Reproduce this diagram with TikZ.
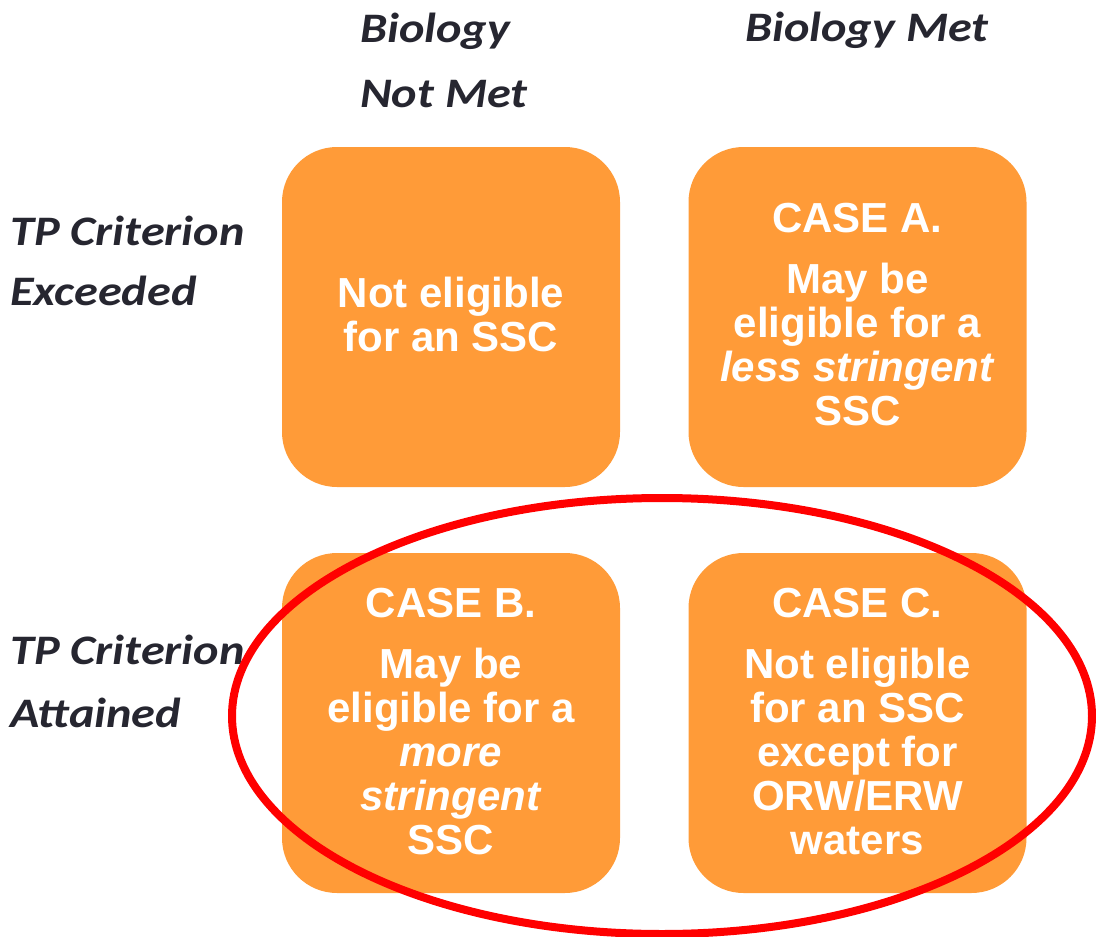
\documentclass[tikz,border=0pt]{standalone}
\usepackage{fontspec}
\usetikzlibrary{shapes.geometric}
\setmainfont{Liberation Sans}
\newfontfamily\headfont[FakeStretch=1.15]{Carlito}
\definecolor{boxorange}{HTML}{FF9B38}
\definecolor{headgray}{HTML}{262630}
\tikzset{
  quad/.style={fill=boxorange, draw=none, rounded corners=55pt, minimum width=338pt, minimum height=340pt, inner sep=0pt},
  boxtxt/.style={text=white, font=\fontsize{42}{44}\selectfont\bfseries, align=center, anchor=base, inner sep=0pt},
  headtxt/.style={text=headgray, font=\headfont\fontsize{42}{42}\selectfont\bfseries\itshape, anchor=base west, inner sep=0pt},
  ring/.style={draw=red, line width=8pt}
}
\begin{document}
\begin{tikzpicture}[x=1pt,y=-1pt]
\useasboundingbox (0,0) rectangle (1096,937);
% boxes
\node[quad] (tl) at (451,317) {};
\node[quad] (tr) at (857.5,317) {};
\node[quad] (bl) at (451,723) {};
\node[quad] (br) at (857.5,723) {};
% headings
\node[headtxt] (h1a) at (360,42) {Biology};
\node[headtxt] (h1b) at (360,107) {Not Met};
\node[headtxt] (h2) at (745,41) {Biology Met};
\node[headtxt] (r1a) at (10,245) {TP Criterion};
\node[headtxt] (r1b) at (10,305) {Exceeded};
\node[headtxt] (r2a) at (10,664) {TP Criterion};
\node[headtxt] (r2b) at (10,727) {Attained};
% box texts (anchor = baseline of last line)
\node[boxtxt] (ttl) at (451,351) {Not eligible\\for an SSC};
\node[boxtxt] (tra) at (857.5,232) {CASE A.};
\node[boxtxt] (trb) at (857.5,425) {May be\\eligible for a\\\textit{less stringent}\\SSC};
\node[boxtxt] (bla) at (451,617) {CASE B.};
\node[boxtxt] (blb) at (451,854) {May be\\eligible for a\\\textit{more}\\\textit{stringent}\\SSC};
\node[boxtxt] (bra) at (857.5,617) {CASE C.};
\node[boxtxt] (brb) at (857.5,854) {Not eligible\\for an SSC\\except for\\ORW/ERW\\waters};
% ellipse
\node[ring, ellipse, minimum width=860pt, minimum height=436pt, inner sep=0pt] (ring) at (662,716) {};
\end{tikzpicture}
\end{document}
